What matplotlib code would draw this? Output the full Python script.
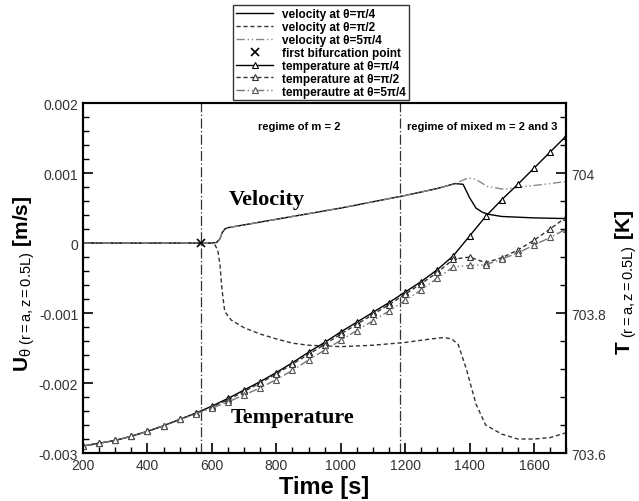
import matplotlib
matplotlib.use('Agg')
import matplotlib.pyplot as plt
from matplotlib.ticker import MultipleLocator, FuncFormatter
import numpy as np

plt.rcParams['font.family'] = ['Liberation Sans', 'DejaVu Sans']
plt.rcParams['mathtext.fontset'] = 'custom'
plt.rcParams['mathtext.rm'] = 'Liberation Sans'
plt.rcParams['mathtext.it'] = 'Liberation Sans'
plt.rcParams['mathtext.bf'] = 'Liberation Sans:bold'

# velocite (axe gauche)
t_v1 = [200, 560, 600, 615, 625, 632, 640, 650, 700, 800, 900, 1000, 1100, 1200,
        1300, 1355, 1380, 1400, 1420, 1440, 1460, 1500, 1600, 1700]
v_pi4 = [0, 0, 0, 0.00001, 0.00006, 0.00015, 0.0002, 0.00022, 0.00026, 0.00034,
         0.00042, 0.0005, 0.00059, 0.00068, 0.00078, 0.00085, 0.00084, 0.00065,
         0.0005, 0.00044, 0.00041, 0.00038, 0.00036, 0.00035]

t_v3 = [200, 560, 600, 615, 625, 632, 640, 650, 700, 800, 900, 1000, 1100, 1200,
        1300, 1355, 1380, 1396, 1420, 1455, 1505, 1556, 1633, 1700]
v_5pi4 = [0, 0, 0, 0.00001, 0.00006, 0.00015, 0.0002, 0.00022, 0.00026, 0.00034,
          0.00042, 0.0005, 0.00059, 0.00068, 0.00078, 0.00085, 0.0009, 0.00093,
          0.00091, 0.00081, 0.00077, 0.0008, 0.00084, 0.00088]

t_v2 = [200, 560, 600, 610, 618, 625, 630, 635, 640, 660, 700, 750, 800, 850, 900,
        1000, 1100, 1200, 1280, 1320, 1345, 1365, 1390, 1420, 1450, 1500, 1550,
        1600, 1650, 1700]
v_pi2 = [0, 0, 0, -0.00003, -0.0001, -0.0003, -0.0006, -0.0008, -0.00098,
         -0.0011, -0.00121, -0.0013, -0.00137, -0.00143, -0.00146, -0.00148,
         -0.00146, -0.00142, -0.00137, -0.00135, -0.00137, -0.00145, -0.0018,
         -0.0023, -0.0026, -0.00273, -0.0028, -0.0028, -0.00278, -0.00271]

# temperature (axe droit)
t_T = [200, 250, 300, 350, 400, 450, 500, 550, 600, 650, 700, 750, 800, 850, 900,
       950, 1000, 1050, 1100, 1150, 1200, 1250, 1300, 1350, 1400, 1450, 1500,
       1550, 1600, 1650, 1700]
T_pi4 = [703.610, 703.614, 703.618, 703.624, 703.631, 703.639, 703.648, 703.657,
         703.667, 703.678, 703.690, 703.702, 703.715, 703.729, 703.744, 703.758,
         703.773, 703.787, 703.801, 703.815, 703.830, 703.845, 703.862, 703.882,
         703.910, 703.938, 703.962, 703.984, 704.007, 704.030, 704.053]
T_pi2 = [703.610, 703.614, 703.618, 703.624, 703.631, 703.639, 703.648, 703.657,
         703.666, 703.676, 703.688, 703.700, 703.713, 703.727, 703.741, 703.755,
         703.770, 703.784, 703.798, 703.812, 703.827, 703.842, 703.858, 703.877,
         703.880, 703.872, 703.879, 703.890, 703.904, 703.920, 703.937]
T_5pi4 = [703.610, 703.614, 703.618, 703.624, 703.631, 703.639, 703.648, 703.656,
          703.664, 703.673, 703.683, 703.693, 703.705, 703.718, 703.733, 703.747,
          703.761, 703.775, 703.789, 703.803, 703.818, 703.833, 703.850, 703.866,
          703.868, 703.869, 703.877, 703.886, 703.897, 703.908, 703.920]

t_bif = [565]
v_bif = [0]
t_regime = [565, 1185]

labels = ['velocity at θ=π/4', 'velocity at θ=π/2', 'velocity at θ=5π/4',
          'first bifurcation point', 'temperature at θ=π/4',
          'temperature at θ=π/2', 'temperautre at θ=5π/4']

dashdotdot = (0, (6, 2, 1, 2, 1, 2))

fig = plt.figure(figsize=(6.39, 5.02), dpi=100)
ax = fig.add_axes([0.130, 0.0956, 0.756, 0.697])
ax2 = ax.twinx()

l1, = ax.plot(t_v1, v_pi4, color='black', lw=1.0)
l2, = ax.plot(t_v2, v_pi2, color='#333333', lw=1.0, ls=(0, (3, 2)))
l3, = ax.plot(t_v3, v_5pi4, color='#888888', lw=1.0, ls=dashdotdot)
l4, = ax.plot(t_bif, v_bif, ls='none', marker='x', color='black', ms=6, mew=1.2)
for t in t_regime:
    ax.axvline(t, color='#333333', lw=0.9, ls=(0, (8, 2, 1, 2)))

l5, = ax2.plot(t_T, T_pi4, color='black', lw=1.0, marker='^', ms=5,
               mfc='white', mec='black', mew=0.8)
l6, = ax2.plot(t_T, T_pi2, color='#333333', lw=1.0, ls=(0, (3, 2)), marker='^',
               ms=5, mfc='white', mec='#333333', mew=0.8)
l7, = ax2.plot(t_T, T_5pi4, color='#777777', lw=1.0, ls=dashdotdot, marker='^',
               ms=5, mfc='white', mec='#555555', mew=0.8)

ax.set_xlim(200, 1700)
ax.set_ylim(-0.003, 0.002)
ax2.set_ylim(703.6, 704.1)

fmt = FuncFormatter(lambda x, p: ('%g' % round(x, 6)).replace('\u2212', '-'))
ax.xaxis.set_major_locator(MultipleLocator(200))
ax.xaxis.set_minor_locator(MultipleLocator(50))
ax.yaxis.set_major_locator(MultipleLocator(0.001))
ax.yaxis.set_minor_locator(MultipleLocator(0.0002))
ax2.yaxis.set_major_locator(MultipleLocator(0.2))
ax2.yaxis.set_minor_locator(MultipleLocator(0.04))
ax.yaxis.set_major_formatter(fmt)
ax2.yaxis.set_major_formatter(fmt)

ax.tick_params(which='both', direction='in', top=False, right=False,
               labelsize=10, labelcolor='#333333')
ax.tick_params(which='major', length=7, width=1.2)
ax.tick_params(which='minor', length=4, width=1.0)
ax2.tick_params(which='both', direction='in', labelsize=10, labelcolor='#333333')
ax2.tick_params(which='major', length=7, width=1.2)
ax2.tick_params(which='minor', length=4, width=1.0)
for a in (ax, ax2):
    for s in a.spines.values():
        s.set_linewidth(1.5)

ax.set_xlabel('Time [s]', fontsize=17, fontweight='bold', labelpad=2)
ax.set_ylabel(r'$\mathbf{U}_{\theta\ \mathrm{(r=a,z=0.5L)}}$ [m/s]',
              fontsize=15, fontweight='bold')
ax.yaxis.set_label_coords(-0.095, 0.485)
ax2.set_ylabel(r'$\mathbf{T}_{\ \mathrm{(r=a,z=0.5L)}}$ [K]', fontsize=15,
               fontweight='bold', rotation=90)
ax2.yaxis.set_label_coords(1.097, 0.49)

ax.text(870, 0.00167, 'regime of m = 2', fontsize=8, fontweight='bold',
        ha='center', va='center')
ax.text(1440, 0.00167, 'regime of mixed m = 2 and 3', fontsize=8,
        fontweight='bold', ha='center', va='center')
ax.text(771, 0.00063, 'Velocity', family='Liberation Serif', fontsize=16,
        fontweight='bold', ha='center', va='center')
ax.text(849, -0.00248, 'Temperature', family='Liberation Serif', fontsize=16,
        fontweight='bold', ha='center', va='center')

leg = fig.legend([l1, l2, l3, l4, l5, l6, l7], labels, loc='upper left',
                 bbox_to_anchor=(0.356, 1.0), frameon=True,
                 fancybox=False, edgecolor='black', labelspacing=0.08,
                 handlelength=3.1, handletextpad=0.8, borderpad=0.25,
                 prop={'weight': 'bold', 'size': 8.5})
leg.get_frame().set_linewidth(1.0)

plt.savefig('out.png', dpi=100)
